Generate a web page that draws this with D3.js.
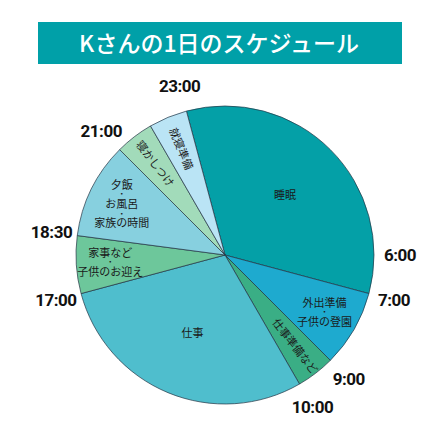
<!DOCTYPE html>
<html>
<head>
<meta charset="utf-8">
<script src="https://cdn.jsdelivr.net/npm/d3@7"></script>
<style>
  body { margin: 0; background: #fff; }
  svg { display: block; }
</style>
</head>
<body>
<div class="chart"></div>
<script>
// schedule of one day, slices start at 23:00 and go clockwise
const activities = [
  ['睡眠'],
  ['外出準備', '・', '子供の登園'],
  ['仕事準備など'],
  ['仕事'],
  ['家事など', '・', '子供のお迎え'],
  ['夕飯', '・', 'お風呂', '・', '家族の時間'],
  ['寝かしつけ'],
  ['就寝準備']
];
const hours = [8, 2, 1, 7, 1.5, 2.5, 1, 1];
const sliceColors = ['#04a0a7', '#1eaacf', '#3aae85', '#4fbecd', '#6dc79b', '#87d0df', '#a2dbba', '#bae4f5'];
const rotated = [false, false, true, false, false, false, true, true];

const startHour = 23;
const timeTicks = [23, 6, 7, 9, 10, 17, 18.5, 21];
const timeLabels = ['23:00', '6:00', '7:00', '9:00', '10:00', '17:00', '18:30', '21:00'];

const title = 'Kさんの1日のスケジュール';

const W = 440, H = 440;
const cx = 225, cy = 255, radius = 149;

const svg = d3.select('.chart')
  .append('svg')
  .attr('width', W)
  .attr('height', H);

// title banner
svg.append('rect')
  .attr('x', 38)
  .attr('y', 22)
  .attr('width', 364)
  .attr('height', 42)
  .attr('fill', '#00a0a8');

svg.append('text')
  .attr('x', 219)
  .attr('y', 52)
  .attr('text-anchor', 'middle')
  .attr('fill', '#fff')
  .style('font-family', '"Noto Sans CJK JP", sans-serif')
  .style('font-weight', 500)
  .style('font-size', '23px')
  .text(title);

// hour -> angle (0:00 at the top)
const angle = d3.scaleLinear()
  .domain([0, 24])
  .range([0, 2 * Math.PI]);

const start = angle(startHour) - 2 * Math.PI;

const pie = d3.pie()
  .sort(null)
  .value(d => d)
  .startAngle(start)
  .endAngle(start + 2 * Math.PI);

const arcs = pie(hours);

const arc = d3.arc()
  .innerRadius(0)
  .outerRadius(radius);

const g = svg.append('g')
  .attr('transform', `translate(${cx},${cy})`);

g.selectAll('path')
  .data(arcs)
  .enter()
  .append('path')
  .attr('d', arc)
  .attr('fill', (d, i) => sliceColors[i])
  .attr('stroke', '#234')
  .attr('stroke-width', 0.7);

// slice texts, big slices get their text nearer the middle
const labelArc = d => d3.arc()
  .innerRadius(0)
  .outerRadius(d.data >= 7 ? 170 : 230);

const labels = g.selectAll('.slice-label')
  .data(arcs)
  .enter()
  .append('g')
  .attr('class', 'slice-label')
  .attr('transform', (d, i) => {
    const [x, y] = labelArc(d).centroid(d);
    if (!rotated[i]) return `translate(${x},${y})`;
    const mid = (d.startAngle + d.endAngle) / 2;
    let deg = mid * 180 / Math.PI - 90;
    if (deg > 90) deg -= 180;
    if (deg < -90) deg += 180;
    return `translate(${x},${y}) rotate(${deg})`;
  });

labels.each(function(d, i) {
  const lines = activities[i];
  const t = d3.select(this).append('text')
    .attr('text-anchor', 'middle')
    .attr('fill', '#1a1a1a')
    .style('font-family', '"Noto Sans CJK JP", sans-serif')
    .style('font-size', '11px');
  lines.forEach((line, k) => {
    t.append('tspan')
      .attr('x', 0)
      .attr('y', (k - (lines.length - 1) / 2) * 9.6)
      .attr('dy', '0.35em')
      .style('font-size', line === '・' ? '8px' : null)
      .text(line);
  });
});

// hour labels round the pie
g.selectAll('.time')
  .data(timeTicks)
  .enter()
  .append('text')
  .attr('class', 'time')
  .attr('x', d => Math.sin(angle(d)) * 175)
  .attr('y', d => -Math.cos(angle(d)) * 175)
  .attr('dy', '0.36em')
  .attr('text-anchor', 'middle')
  .attr('fill', '#111')
  .style('font-family', 'Roboto, sans-serif')
  .style('font-weight', 700)
  .style('font-size', '17px')
  .style('letter-spacing', '-0.5px')
  .text((d, i) => timeLabels[i]);
</script>
</body>
</html>
